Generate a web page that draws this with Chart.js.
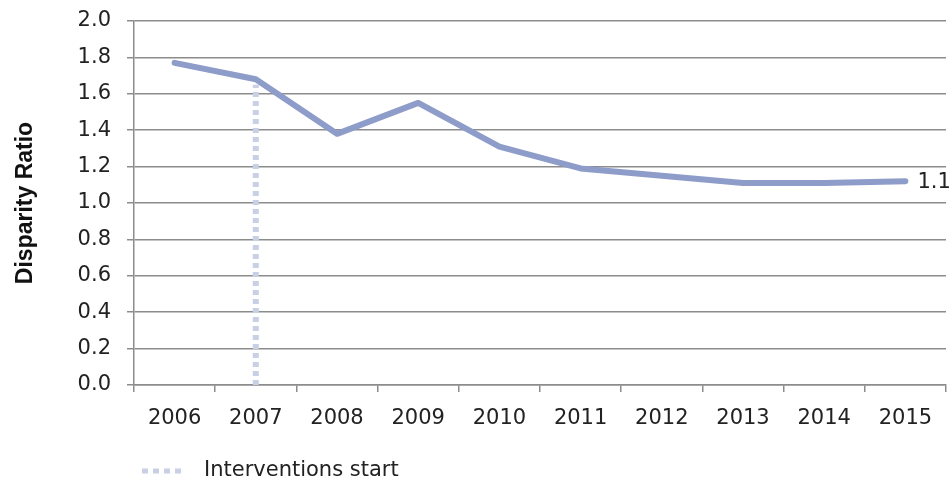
<!DOCTYPE html>
<html>
<head>
<meta charset="utf-8">
<script src="https://cdn.jsdelivr.net/npm/chart.js@4.4.1/dist/chart.umd.min.js"></script>
<style>
	html, body { margin:0; padding:0; background:#fff; }
	#wrap { width:952px; height:483px; }
</style>
</head>
<body>
<div id="wrap"><canvas id="chart"></canvas></div>
<script>
const years = ['2006','2007','2008','2009','2010','2011','2012','2013','2014','2015'];
const disparityRatio = [1.77, 1.68, 1.38, 1.55, 1.31, 1.19, 1.15, 1.11, 1.11, 1.12];
const interventionYear = '2007';
const interventionRange = [0, 1.65];
const yTicks = [0, 0.2, 0.4, 0.6, 0.8, 1.0, 1.2, 1.4, 1.6, 1.8, 2.0];

const FONT = '"DejaVu Sans", sans-serif';
const GRID = '#8c8c8c';
const LINE_COLOR = '#8e9cc9';
const DASH_COLOR = '#c9cfe5';

// value label next to the last point, like the Excel data label
const lastLabel = {
	id: 'lastLabel',
	afterDatasetsDraw(chart) {
		const pt = chart.getDatasetMeta(0).data[disparityRatio.length - 1];
		const ctx = chart.ctx;
		ctx.save();
		ctx.font = '21px ' + FONT;
		ctx.fillStyle = '#222';
		ctx.textBaseline = 'middle';
		ctx.fillText(disparityRatio[disparityRatio.length - 1].toFixed(2), pt.x + 12, pt.y + 1);
		ctx.restore();
	}
};

// legend under the plot: dashed swatch + label of the intervention series
const bottomLegend = {
	id: 'bottomLegend',
	afterDraw(chart) {
		const ds = chart.data.datasets[1];
		const ctx = chart.ctx;
		const x = chart.chartArea.left + 8, y = chart.chartArea.bottom + 86;
		ctx.save();
		ctx.strokeStyle = ds.borderColor;
		ctx.lineWidth = 5;
		ctx.setLineDash([6,5]);
		ctx.beginPath(); ctx.moveTo(x, y); ctx.lineTo(x + 42, y); ctx.stroke();
		ctx.setLineDash([]);
		ctx.font = '21px ' + FONT;
		ctx.fillStyle = '#222';
		ctx.textBaseline = 'middle';
		ctx.fillText(ds.label, x + 62, y);
		ctx.restore();
	}
};

new Chart(document.getElementById('chart'), {
	type: 'line',
	data: {
		labels: years,
		datasets: [
			{ label: 'Disparity Ratio', data: disparityRatio, borderColor: LINE_COLOR, borderWidth: 6, pointRadius: 0, tension: 0, borderCapStyle: 'round', borderJoinStyle: 'round' },
			{ label: 'Interventions start', data: interventionRange.map(v => ({ x: interventionYear, y: v })), borderColor: DASH_COLOR, borderWidth: 6, borderDash: [5,4], borderCapStyle: 'butt', pointRadius: 0 }
		]
	},
	options: {
		responsive: true,
		maintainAspectRatio: false,
		animation: false,
		layout: { padding: { top: 21, right: 6, bottom: 48, left: 0 } },
		plugins: {
			tooltip: { enabled: false },
			legend: { display: false }
		},
		scales: {
			x: {
				offset: true,
				grid: { offset: true, drawOnChartArea: false, color: GRID, tickLength: 7, lineWidth: 1.5 },
				border: { color: GRID, width: 1.5 },
				ticks: { font: { family: FONT, size: 21 }, color: '#222', padding: 14, maxRotation: 0 },
				afterFit: (s) => { s.height = 50; }
			},
			y: {
				min: 0, max: 2.0,
				afterBuildTicks: (s) => { s.ticks = yTicks.map(v => ({ value: v })); },
				grid: { color: GRID, tickLength: 7, lineWidth: 1.5 },
				border: { color: GRID, width: 1.5 },
				ticks: { font: { family: FONT, size: 21 }, color: '#222', padding: 16, callback: (v) => Number(v).toFixed(1) },
				title: { display: true, text: 'Disparity Ratio', font: { family: '"Liberation Sans", Arial, sans-serif', size: 23, weight: 'bold' }, color: '#111', padding: { top: 12, bottom: 0 } },
				afterFit: (s) => { s.width = 134; s.paddingTop = 0; s.paddingBottom = 0; }
			}
		}
	},
	plugins: [lastLabel, bottomLegend]
});
</script>
</body>
</html>
